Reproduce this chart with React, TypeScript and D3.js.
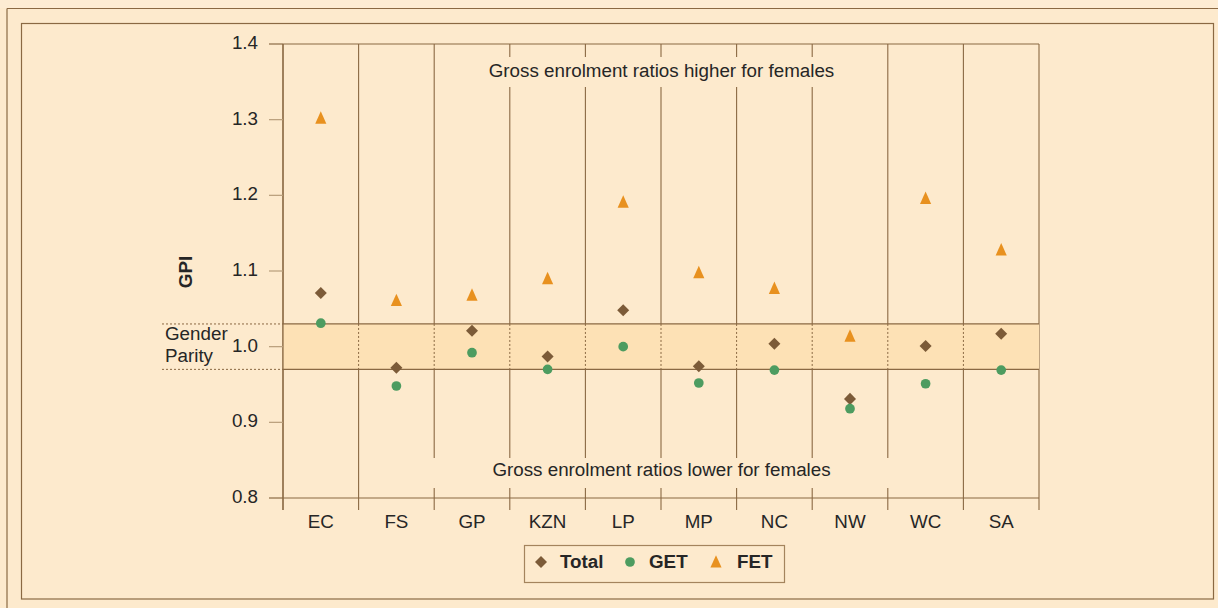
import React from "react";
import * as d3 from "d3";

const categories = ["EC", "FS", "GP", "KZN", "LP", "MP", "NC", "NW", "WC", "SA"];
const totalValues = [1.071, 0.972, 1.021, 0.987, 1.048, 0.974, 1.004, 0.931, 1.001, 1.017];
const getValues = [1.031, 0.948, 0.992, 0.970, 1.000, 0.952, 0.969, 0.918, 0.951, 0.969];
const fetValues = [1.302, 1.061, 1.068, 1.090, 1.191, 1.098, 1.077, 1.014, 1.196, 1.128];
const yTicks = [0.8, 0.9, 1.0, 1.1, 1.2, 1.3, 1.4];
const parityBand = [0.97, 1.03];
const seriesNames = ["Total", "GET", "FET"];

const W = 1218;
const H = 608;
const BG = "#fdeacd";
const BAND = "#fde1b5";
const LINE = "#8a6943";
const TICK = "#b89d7a";
const DIAMOND = "#7c5b38";
const GREEN = "#4d9c60";
const ORANGE = "#e8911f";
const TEXT = "#262626";
const FONT = "'Liberation Sans', Arial, sans-serif";
const FS = 18.8;

const triangleType = {
  draw(ctx: any, size: number) {
    const w = Math.sqrt(size) * 1.0;
    const h = w * 1.12;
    ctx.moveTo(0, -h * 0.55);
    ctx.lineTo(w / 2, h * 0.45);
    ctx.lineTo(-w / 2, h * 0.45);
    ctx.closePath();
  },
};

export default function App() {
  const x = d3.scaleBand<string>().domain(categories).range([283, 1039]).padding(0);
  const y = d3.scaleLinear().domain([0.8, 1.4]).range([498, 44]);
  const left = 283;
  const right = 1039;
  const top = y(1.4);
  const bottom = y(0.8);
  const bandTop = y(parityBand[1]);
  const bandBot = y(parityBand[0]);
  const boundaries = categories.map((c) => x(c) as number).concat([right]);

  const diamond = d3.symbol().type(d3.symbolDiamond2).size(92)();
  const circle = d3.symbol().type(d3.symbolCircle).size(74)();
  const tri = d3.symbol().type(triangleType as any).size(124)();

  const cx = (c: string) => (x(c) as number) + x.bandwidth() / 2;

  return (
    <svg
      width={W}
      height={H}
      style={{ position: "absolute", left: 0, top: 0, display: "block" }}
      fontFamily={FONT}
    >
      <rect x={0} y={0} width={W} height={H} fill={BG} />
      <rect x={0} y={0} width={W} height={8} fill="#fdecd3" />
      {/* frames */}
      <line x1={7} y1={8.5} x2={W} y2={8.5} stroke={LINE} strokeWidth={1.2} />
      <line x1={7} y1={8.5} x2={7} y2={H} stroke={LINE} strokeWidth={1.2} />
      <rect x={21.5} y={23.5} width={1192} height={575.5} fill="none" stroke={LINE} strokeWidth={1.2} />

      {/* vertical category boundaries */}
      {boundaries.map((bx, i) => (
        <line key={"v" + i} x1={bx} y1={top} x2={bx} y2={510} stroke={LINE} strokeWidth={1.1} />
      ))}

      {/* parity band */}
      <rect x={left} y={bandTop} width={right - left} height={bandBot - bandTop} fill={BAND} />
      {boundaries.slice(1, -1).map((bx, i) => (
        <line
          key={"vd" + i}
          x1={bx}
          y1={bandTop}
          x2={bx}
          y2={bandBot}
          stroke={LINE}
          strokeWidth={1}
          strokeDasharray="2,2"
        />
      ))}
      <line x1={left} y1={bandTop} x2={right} y2={bandTop} stroke={LINE} strokeWidth={1.2} />
      <line x1={left} y1={bandBot} x2={right} y2={bandBot} stroke={LINE} strokeWidth={1.2} />
      <line x1={162} y1={bandTop} x2={left} y2={bandTop} stroke={LINE} strokeWidth={1} strokeDasharray="2,2" />
      <line x1={162} y1={bandBot} x2={left} y2={bandBot} stroke={LINE} strokeWidth={1} strokeDasharray="2,2" />
      <text x={165} y={bandTop + 11} fontSize={FS} fill={TEXT} dominantBaseline="middle">
        Gender
      </text>
      <text x={165} y={bandBot - 12} fontSize={FS} fill={TEXT} dominantBaseline="middle">
        Parity
      </text>

      {/* label boxes */}
      <rect x={440} y={57} width={442} height={30} fill={BG} />
      <rect x={430} y={458} width={462} height={30} fill={BG} />
      <text x={661.5} y={72} fontSize={FS} fill={TEXT} textAnchor="middle" dominantBaseline="middle">
        Gross enrolment ratios higher for females
      </text>
      <text x={661.5} y={471} fontSize={FS} fill={TEXT} textAnchor="middle" dominantBaseline="middle">
        Gross enrolment ratios lower for females
      </text>

      {/* axes */}
      <line x1={left} y1={top} x2={right} y2={top} stroke={LINE} strokeWidth={1.2} />
      <line x1={left} y1={bottom} x2={right} y2={bottom} stroke={LINE} strokeWidth={1.2} />
      <line x1={left} y1={top} x2={left} y2={510} stroke={LINE} strokeWidth={1.2} />
      {yTicks.map((t) => (
        <g key={"t" + t}>
          <line
            x1={269}
            y1={y(t)}
            x2={left}
            y2={y(t)}
            stroke={t === 0.8 || t === 1.4 ? LINE : TICK}
            strokeWidth={1.2}
          />
          <text x={258} y={y(t)} fontSize={FS} fill={TEXT} textAnchor="end" dominantBaseline="middle">
            {t.toFixed(1)}
          </text>
        </g>
      ))}
      {categories.map((c) => (
        <text key={"c" + c} x={cx(c)} y={523} fontSize={FS} fill={TEXT} textAnchor="middle" dominantBaseline="middle">
          {c}
        </text>
      ))}
      <text
        transform={`translate(187,${y(1.1) + 1}) rotate(-90)`}
        fontSize={FS}
        fontWeight="bold"
        fill={TEXT}
        textAnchor="middle"
        dominantBaseline="middle"
      >
        GPI
      </text>

      {/* points */}
      {categories.map((c, i) => (
        <g key={"p" + c}>
          <path d={tri as string} transform={`translate(${cx(c)},${y(fetValues[i])})`} fill={ORANGE} />
          <path d={diamond as string} transform={`translate(${cx(c)},${y(totalValues[i])})`} fill={DIAMOND} />
          <path d={circle as string} transform={`translate(${cx(c)},${y(getValues[i])})`} fill={GREEN} />
        </g>
      ))}

      {/* legend */}
      <rect x={524.5} y={545.5} width={260} height={37} fill={BG} stroke="#a4845d" strokeWidth={1.2} />
      {seriesNames.map((s, i) => {
        const lx = [541, 630, 716][i];
        const tx = [560, 649, 737][i];
        const shape = [diamond, circle, tri][i];
        const col = [DIAMOND, GREEN, ORANGE][i];
        return (
          <g key={"l" + s}>
            <path d={shape as string} transform={`translate(${lx},562)`} fill={col} />
            <text x={tx} y={563} fontSize={FS} fontWeight="bold" fill={TEXT} dominantBaseline="middle">
              {s}
            </text>
          </g>
        );
      })}
    </svg>
  );
}
